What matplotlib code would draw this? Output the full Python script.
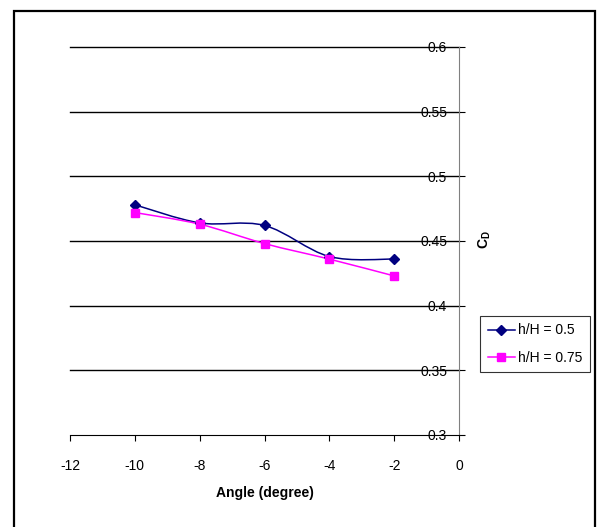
import numpy as np
import matplotlib.pyplot as plt
from matplotlib.path import Path
from matplotlib.patches import PathPatch, Rectangle
from matplotlib.lines import Line2D

plt.rcParams['font.family'] = ['Liberation Sans', 'DejaVu Sans']

angle = [-10, -8, -6, -4, -2]
cd_05 = [0.478, 0.464, 0.462, 0.438, 0.436]
cd_075 = [0.472, 0.463, 0.448, 0.436, 0.423]
x_ticks = [-12, -10, -8, -6, -4, -2, 0]
y_ticks = [0.3, 0.35, 0.4, 0.45, 0.5, 0.55, 0.6]


def smooth_path(xs, ys):
    # catmull-rom style bezier through the points, like a spreadsheet smoothed line
    pts = np.column_stack([xs, ys])
    verts = [pts[0]]
    codes = [Path.MOVETO]
    n = len(pts)
    for i in range(n - 1):
        p0 = pts[max(i - 1, 0)]
        p1 = pts[i]
        p2 = pts[i + 1]
        p3 = pts[min(i + 2, n - 1)]
        c1 = p1 + (p2 - p0) / 6
        c2 = p2 - (p3 - p1) / 6
        verts += [c1, c2, p2]
        codes += [Path.CURVE4] * 3
    return Path(verts, codes)


fig = plt.figure(figsize=(5.97, 5.27), dpi=100)
ax = fig.add_axes([70 / 597, 1 - 435 / 527, 389 / 597, 388 / 527])

ax.set_xlim(-12, 0)
ax.set_ylim(0.3, 0.6)

for yv in y_ticks[1:]:
    ax.axhline(yv, color='black', lw=1.0, clip_on=False, zorder=1)

series = [(cd_05, '#000080', 'D', 5.5, 'h/H = 0.5'),
          (cd_075, '#FF00FF', 's', 5.5, 'h/H = 0.75')]
handles = []
for ys, col, mk, ms, lab in series:
    ax.add_patch(PathPatch(smooth_path(angle, ys), facecolor='none',
                           edgecolor=col, lw=1.1, zorder=3))
    ax.plot(angle, ys, linestyle='none', marker=mk, color=col, ms=ms, zorder=4)
    handles.append(Line2D([], [], color=col, marker=mk, ms=ms, lw=1.1, label=lab))

for s in ['left', 'top']:
    ax.spines[s].set_visible(False)
ax.spines['bottom'].set_color('black')
ax.spines['right'].set_color('#808080')

ax.set_xticks(x_ticks)
ax.set_xticklabels([str(v) for v in x_ticks])
ax.tick_params(axis='x', direction='out', length=4, width=0.8, color='black',
               pad=13, labelsize=10)

ax.yaxis.tick_right()
ax.set_yticks(y_ticks)
ax.set_yticklabels([f'{v:g}' for v in y_ticks])
ax.tick_params(axis='y', direction='out', length=4, width=0.8, color='black',
               pad=-12.5, labelsize=10)
for lab in ax.get_yticklabels():
    lab.set_horizontalalignment('right')

ax.set_xlabel('Angle (degree)', fontsize=10, fontweight='bold', labelpad=10)
fig.text(485 / 597, 1 - 240 / 527, r'C$_\mathregular{D}$', rotation=90,
         fontsize=10, fontweight='bold', ha='center', va='center')

leg = fig.legend(handles=handles, loc='center',
                 bbox_to_anchor=(535 / 597, 1 - 344 / 527),
                 fontsize=10, frameon=True, fancybox=False,
                 edgecolor='black', handlelength=2.0, handletextpad=0.2,
                 borderpad=0.55, labelspacing=0.95, borderaxespad=0)
leg.get_frame().set_linewidth(0.8)

fig.patches.append(Rectangle((14 / 597, -0.1), (595 - 14) / 597,
                             1 - 11 / 527 + 0.1, transform=fig.transFigure,
                             fill=False, edgecolor='black', lw=1.6))

fig.savefig('out.png', dpi=100)
